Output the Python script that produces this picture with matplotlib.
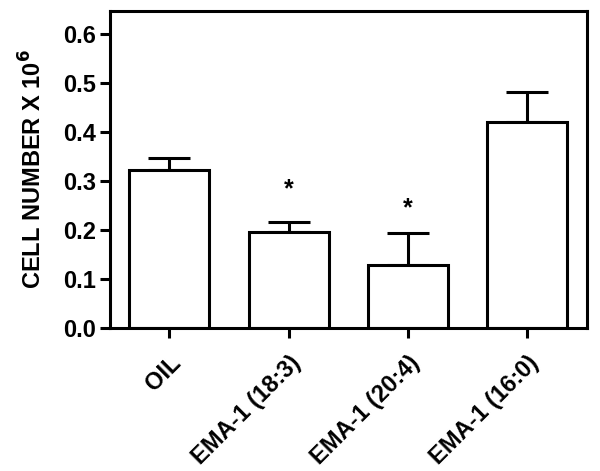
import matplotlib
matplotlib.use("Agg")
import matplotlib.pyplot as plt

# bar values (cells x 10^6), SEM shown upward only
groups = ["OIL", "EMA-1 (18:3)", "EMA-1 (20:4)", "EMA-1 (16:0)"]
means = [0.322, 0.196, 0.129, 0.421]
sems = [0.024, 0.020, 0.065, 0.061]
significant = [False, True, True, False]
star_y = [None, 0.284, 0.245, None]

plt.rcParams["font.family"] = ["Liberation Sans", "DejaVu Sans"]
plt.rcParams["font.weight"] = "bold"

fig = plt.figure(figsize=(6, 4.71), dpi=100)
ax = fig.add_axes([0.183, 0.3036, 0.795, 0.673])

x = list(range(len(groups)))
ax.bar(x, means, width=0.67, color="white", edgecolor="black", linewidth=2.2, zorder=2)
ax.errorbar(x, means, yerr=[[0] * len(sems), sems], fmt="none", ecolor="black",
            elinewidth=2.2, capsize=15, capthick=2.2, zorder=1)

for i, flag in enumerate(significant):
    if flag:
        ax.text(x[i], star_y[i], "*", ha="center", va="center", fontsize=18, fontweight="bold")

ax.set_xlim(-0.5, 3.5)
ax.set_ylim(0, 0.647)
ax.set_yticks([0.0, 0.1, 0.2, 0.3, 0.4, 0.5, 0.6])
ax.set_yticklabels(["0.0", "0.1", "0.2", "0.3", "0.4", "0.5", "0.6"])
ax.set_xticks(x)
ax.set_xticklabels(groups, rotation=45, ha="right", rotation_mode="anchor")

ax.tick_params(axis="both", direction="out", length=7, width=2.2, labelsize=17)
ax.tick_params(axis="y", pad=3)
ax.tick_params(axis="x", pad=10)
for spine in ax.spines.values():
    spine.set_linewidth(2.2)

ax.set_ylabel("CELL NUMBER X 10$^\\mathbf{6}$", fontsize=17, fontweight="bold", labelpad=12)

fig.savefig("out.png", dpi=100, facecolor="white")
